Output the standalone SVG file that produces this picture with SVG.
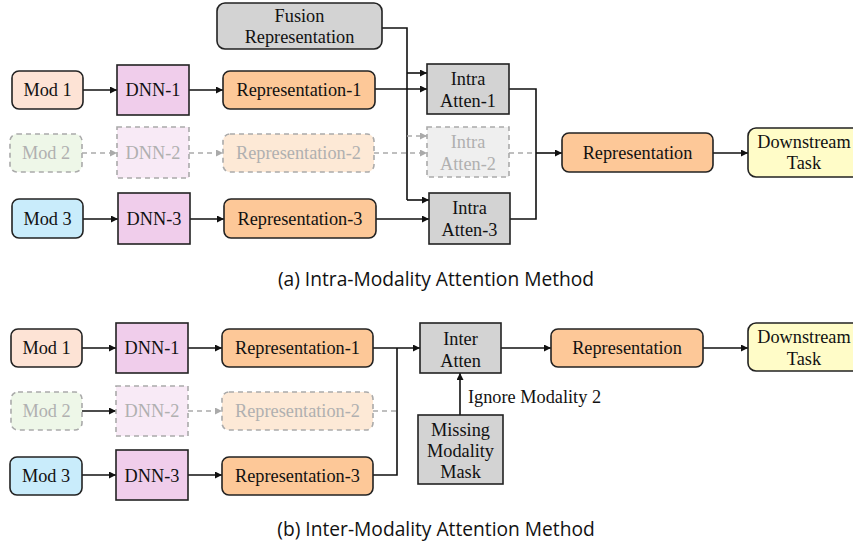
<svg xmlns="http://www.w3.org/2000/svg" width="853" height="548" viewBox="0 0 853 548">
<defs>
<marker id="ah" viewBox="0 0 10 10" refX="10" refY="5" markerWidth="7" markerHeight="7" markerUnits="userSpaceOnUse" orient="auto"><path d="M0,0 L10,5 L0,10 z" fill="#111"/></marker>
<marker id="ahg" viewBox="0 0 10 10" refX="10" refY="5" markerWidth="7" markerHeight="7" markerUnits="userSpaceOnUse" orient="auto"><path d="M0,0 L10,5 L0,10 z" fill="#aaa"/></marker>
</defs>
<style>
.n{stroke:#222;stroke-width:1.6}
.d{stroke:#aaa;stroke-width:1.6;stroke-dasharray:5,4}
.t{font-family:"Liberation Serif","Times New Roman",serif;font-size:18.3px;fill:#111;text-anchor:middle}
.tg{font-family:"Liberation Serif","Times New Roman",serif;font-size:18.3px;fill:#b0b0b0;text-anchor:middle}
.c{font-family:"Open Sans",Lato,sans-serif;font-size:19.2px;fill:#111;text-anchor:middle}
.l{fill:none;stroke:#111;stroke-width:1.6}
.lg{fill:none;stroke:#aaa;stroke-width:1.6;stroke-dasharray:5,4}
.m1{fill:#fde3d5}.m2{fill:#eef7e8}.m3{fill:#c9ecfb}.dn{fill:#f0cdeb}.dn2{fill:#f8eaf6}
.rp{fill:#fdc898}.rp2{fill:#fde9d6}.gr{fill:#d3d3d3}.gr2{fill:#efefef}.ds{fill:#fffcc8}
</style>

<g id="connectors">
<line class="l" x1="83" y1="90" x2="117" y2="90" marker-end="url(#ah)"/>
<line class="l" x1="189" y1="90" x2="223" y2="90" marker-end="url(#ah)"/>
<line class="lg" x1="82" y1="153" x2="117" y2="153" marker-end="url(#ahg)"/>
<line class="lg" x1="189" y1="153" x2="223" y2="153" marker-end="url(#ahg)"/>
<line class="l" x1="83" y1="219" x2="118" y2="219" marker-end="url(#ah)"/>
<line class="l" x1="190" y1="219" x2="224" y2="219" marker-end="url(#ah)"/>
<polyline class="l" points="382,28 407,28 407,200"/>
<line class="l" x1="407" y1="73" x2="427" y2="73" marker-end="url(#ah)"/>
<line class="lg" x1="407" y1="136" x2="427" y2="136" marker-end="url(#ahg)"/>
<line class="l" x1="407" y1="200" x2="429" y2="200" marker-end="url(#ah)"/>
<line class="l" x1="375" y1="89" x2="427" y2="89" marker-end="url(#ah)"/>
<line class="lg" x1="374" y1="153" x2="427" y2="153" marker-end="url(#ahg)"/>
<line class="l" x1="376" y1="219" x2="429" y2="219" marker-end="url(#ah)"/>
<polyline class="l" points="509,89 536,89 536,219 510,219"/>
<line class="lg" x1="509" y1="153" x2="536" y2="153"/>
<line class="l" x1="536" y1="153" x2="562" y2="153" marker-end="url(#ah)"/>
<line class="l" x1="713" y1="153" x2="748" y2="153" marker-end="url(#ah)"/>
<line class="l" x1="82" y1="348" x2="116" y2="348" marker-end="url(#ah)"/>
<line class="l" x1="188" y1="348" x2="222" y2="348" marker-end="url(#ah)"/>
<line class="l" x1="82" y1="411" x2="116" y2="411" marker-end="url(#ah)"/>
<line class="lg" x1="188" y1="411" x2="222" y2="411" marker-end="url(#ahg)"/>
<line class="l" x1="82" y1="475" x2="116" y2="475" marker-end="url(#ah)"/>
<line class="l" x1="188" y1="475" x2="222" y2="475" marker-end="url(#ah)"/>
<line class="lg" x1="373" y1="411" x2="397" y2="411"/>
<polyline class="l" points="373,475 397,475 397,348"/>
<line class="l" x1="373" y1="348" x2="420" y2="348" marker-end="url(#ah)"/>
<line class="l" x1="501" y1="348" x2="551" y2="348" marker-end="url(#ah)"/>
<line class="l" x1="703" y1="348" x2="748" y2="348" marker-end="url(#ah)"/>
<line class="l" x1="460" y1="415" x2="460" y2="373" marker-end="url(#ah)"/>
<text x="468" y="403" class="t" style="text-anchor:start">Ignore Modality 2</text>
</g>

<g id="a-fusion"><rect x="217" y="3" width="165" height="46" rx="8" class="n gr"/><text class="t" x="299.5" y="22">Fusion</text><text class="t" x="299.5" y="43">Representation</text></g>
<g id="a-mod1"><rect x="12" y="71" width="71" height="38" rx="7" class="n m1"/><text class="t" x="47.5" y="96">Mod 1</text></g>
<g id="a-dnn1"><rect x="117" y="65" width="72" height="50" class="n dn"/><text class="t" x="153" y="96">DNN-1</text></g>
<g id="a-rep1"><rect x="223" y="71" width="152" height="38" rx="7" class="n rp"/><text class="t" x="299" y="96">Representation-1</text></g>
<g id="a-mod2"><rect x="10" y="134" width="72" height="38" rx="7" class="d m2"/><text class="tg" x="46" y="159">Mod 2</text></g>
<g id="a-dnn2"><rect x="117" y="127" width="72" height="51" class="d dn2"/><text class="tg" x="153" y="159">DNN-2</text></g>
<g id="a-rep2"><rect x="223" y="134" width="151" height="38" rx="7" class="d rp2"/><text class="tg" x="298.5" y="159">Representation-2</text></g>
<g id="a-mod3"><rect x="12" y="199" width="71" height="39" rx="7" class="n m3"/><text class="t" x="47.5" y="225">Mod 3</text></g>
<g id="a-dnn3"><rect x="118" y="193" width="72" height="51" class="n dn"/><text class="t" x="154" y="225">DNN-3</text></g>
<g id="a-rep3"><rect x="224" y="199" width="152" height="39" rx="7" class="n rp"/><text class="t" x="300" y="225">Representation-3</text></g>
<g id="a-att1"><rect x="427" y="64" width="82" height="50" class="n gr"/><text class="t" x="468" y="85">Intra</text><text class="t" x="468" y="107">Atten-1</text></g>
<g id="a-att2"><rect x="427" y="127" width="82" height="50" class="d gr2"/><text class="tg" x="468" y="148">Intra</text><text class="tg" x="468" y="170">Atten-2</text></g>
<g id="a-att3"><rect x="429" y="193" width="81" height="51" class="n gr"/><text class="t" x="469.5" y="214">Intra</text><text class="t" x="469.5" y="236">Atten-3</text></g>
<g id="a-rep"><rect x="562" y="133" width="151" height="39" rx="7" class="n rp"/><text class="t" x="637.5" y="159">Representation</text></g>
<g id="a-task"><rect x="748" y="128" width="112" height="49" rx="8" class="n ds"/><text class="t" x="804" y="148">Downstream</text><text class="t" x="804" y="169">Task</text></g>
<text class="c" x="436" y="286">(a) Intra-Modality Attention Method</text>

<g id="b-mod1"><rect x="11" y="329" width="71" height="38" rx="7" class="n m1"/><text class="t" x="46.5" y="354">Mod 1</text></g>
<g id="b-dnn1"><rect x="116" y="323" width="72" height="50" class="n dn"/><text class="t" x="152" y="354">DNN-1</text></g>
<g id="b-rep1"><rect x="222" y="329" width="151" height="38" rx="7" class="n rp"/><text class="t" x="297.5" y="354">Representation-1</text></g>
<g id="b-mod2"><rect x="11" y="392" width="71" height="38" rx="7" class="d m2"/><text class="tg" x="46.5" y="417">Mod 2</text></g>
<g id="b-dnn2"><rect x="116" y="386" width="72" height="50" class="d dn2"/><text class="tg" x="152" y="417">DNN-2</text></g>
<g id="b-rep2"><rect x="222" y="392" width="151" height="38" rx="7" class="d rp2"/><text class="tg" x="297.5" y="417">Representation-2</text></g>
<g id="b-mod3"><rect x="10" y="457" width="72" height="38" rx="7" class="n m3"/><text class="t" x="46" y="482">Mod 3</text></g>
<g id="b-dnn3"><rect x="116" y="450" width="72" height="50" class="n dn"/><text class="t" x="152" y="482">DNN-3</text></g>
<g id="b-rep3"><rect x="222" y="457" width="151" height="38" rx="7" class="n rp"/><text class="t" x="297.5" y="482">Representation-3</text></g>
<g id="b-att"><rect x="420" y="323" width="81" height="50" class="n gr"/><text class="t" x="460.5" y="345">Inter</text><text class="t" x="460.5" y="367">Atten</text></g>
<g id="b-mask"><rect x="418" y="415" width="85" height="69" class="n gr"/><text class="t" x="460.5" y="436">Missing</text><text class="t" x="460.5" y="457">Modality</text><text class="t" x="460.5" y="478">Mask</text></g>
<g id="b-rep"><rect x="551" y="329" width="152" height="38" rx="7" class="n rp"/><text class="t" x="627" y="354">Representation</text></g>
<g id="b-task"><rect x="748" y="323" width="112" height="48" rx="8" class="n ds"/><text class="t" x="804" y="343">Downstream</text><text class="t" x="804" y="365">Task</text></g>
<text class="c" x="436" y="536">(b) Inter-Modality Attention Method</text>
</svg>
